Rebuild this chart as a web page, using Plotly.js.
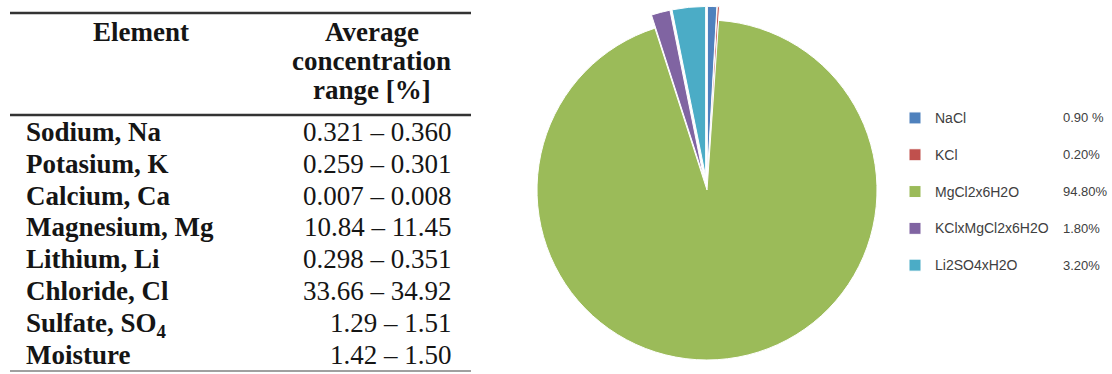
<!DOCTYPE html>
<html><head><meta charset="utf-8">
<script src="https://cdn.plot.ly/plotly-3.0.1.min.js"></script>
<style>html,body{margin:0;padding:0;background:#fff}#chart{width:1112px;height:374px}</style>
</head><body><div id="chart"></div>
<script>
// ---------- table data ----------
const headerElement = "Element";
const headerRange = ["Average", "concentration", "range [%]"];
const elements = ["Sodium, Na", "Potasium, K", "Calcium, Ca", "Magnesium, Mg",
                  "Lithium, Li", "Chloride, Cl", "Sulfate, SO<sub>4</sub>", "Moisture"];
const rangeLow  = [0.321, 0.259, 0.007, 10.84, 0.298, 33.66, 1.29, 1.42];
const rangeHigh = [0.360, 0.301, 0.008, 11.45, 0.351, 34.92, 1.51, 1.50];
const rangeDecimals = [3, 3, 3, 2, 3, 2, 2, 2];

// ---------- pie data ----------
const compounds = ["NaCl", "KCl", "MgCl2x6H2O", "KClxMgCl2x6H2O", "Li2SO4xH2O"];
const shares = [0.90, 0.20, 94.80, 1.80, 3.20];
const shareLabels = ["0.90 %", "0.20%", "94.80%", "1.80%", "3.20%"];
const sliceColors = ["#4F81BD", "#C0504D", "#9BBB59", "#8064A2", "#4BACC6"];

// ---------- layout helpers ----------
const W = 1112, H = 374;
const px = v => v / W;
const py = v => 1 - v / H;
const serif = "Liberation Serif, Times New Roman, serif";
const FS = 27, ASC = 0.891 * FS;

const annotations = [];
const shapes = [];

// header
annotations.push({text: "<b>" + headerElement + "</b>", x: px(141), xanchor: "center",
  y: py(40 - ASC), yanchor: "top"});
headerRange.forEach((t, i) => annotations.push({text: "<b>" + t + "</b>", x: px(372), xanchor: "center",
  y: py(40 + i * 29 - ASC), yanchor: "top"}));

// body rows
const rowBase0 = 140, rowStep = 31.8;
elements.forEach((e, i) => {
  const base = rowBase0 + i * rowStep;
  annotations.push({text: "<b>" + e + "</b>", x: px(25), xanchor: "left", y: py(base - ASC), yanchor: "top"});
  annotations.push({text: rangeLow[i].toFixed(rangeDecimals[i]) + " \u2013 " + rangeHigh[i].toFixed(rangeDecimals[i]),
    x: px(453), xanchor: "right", y: py(base - ASC), yanchor: "top"});
});
annotations.forEach(a => { a.xref = "paper"; a.yref = "paper"; a.showarrow = false; a.borderpad = 0;
  a.font = {family: serif, size: FS, color: "#151515"}; });

// table rules
[[13, 2.6, "#333333"], [115, 2.6, "#333333"], [371, 1.6, "#808080"]].forEach(r => shapes.push({
  type: "line", xref: "paper", yref: "paper", x0: px(10), x1: px(471), y0: py(r[0]), y1: py(r[0]),
  line: {color: r[2], width: r[1]}}));

// legend geometry (font 13 => line 16.9, two-line item => 36.8)
const legFS = 13, legLine = legFS * 1.3, legItemH = 2 * legLine + 3;
const legTop = 103, legX = 895;
const symOffset = 0.5 * (legLine - legItemH + 3);
shareLabels.forEach((s, i) => annotations.push({
  text: s, xref: "paper", yref: "paper", showarrow: false, borderpad: 0,
  x: px(1062), xanchor: "left",
  y: py(legTop + 5 + legItemH * (i + 0.5) + symOffset), yanchor: "middle",
  font: {family: "Liberation Sans, Arial, sans-serif", size: 13, color: "#404040"}
}));

const pieCx = 707, pieCy = 190, pieR = 170, pull = 0.08;
const R = pieR * (1 + pull);

const data = [{
  type: "pie",
  labels: compounds.map(c => '<span style="font-size:14px">' + c + '</span><br>&nbsp;'),
  values: shares,
  sort: false,
  direction: "clockwise",
  rotation: 0,
  pull: shares.map(v => v < 50 ? pull : 0),
  textinfo: "none",
  hoverinfo: "label+percent",
  marker: {colors: sliceColors, line: {color: "#ffffff", width: 1}},
  domain: {x: [px(pieCx - R), px(pieCx + R)], y: [Math.max(0, py(pieCy + R)), Math.min(1, py(pieCy - R))]}
}];

const layout = {
  width: W, height: H,
  margin: {l: 0, r: 0, t: 0, b: 0},
  paper_bgcolor: "#ffffff", plot_bgcolor: "#ffffff",
  showlegend: true,
  legend: {x: px(legX), xanchor: "left", y: py(legTop), yanchor: "top", valign: "top",
    font: {family: "Liberation Sans, Arial, sans-serif", size: legFS, color: "#404040"},
    bgcolor: "rgba(0,0,0,0)", borderwidth: 0, traceorder: "normal"},
  annotations: annotations,
  shapes: shapes
};

Plotly.newPlot("chart", data, layout, {displayModeBar: false, staticPlot: true});
</script>
</body></html>
